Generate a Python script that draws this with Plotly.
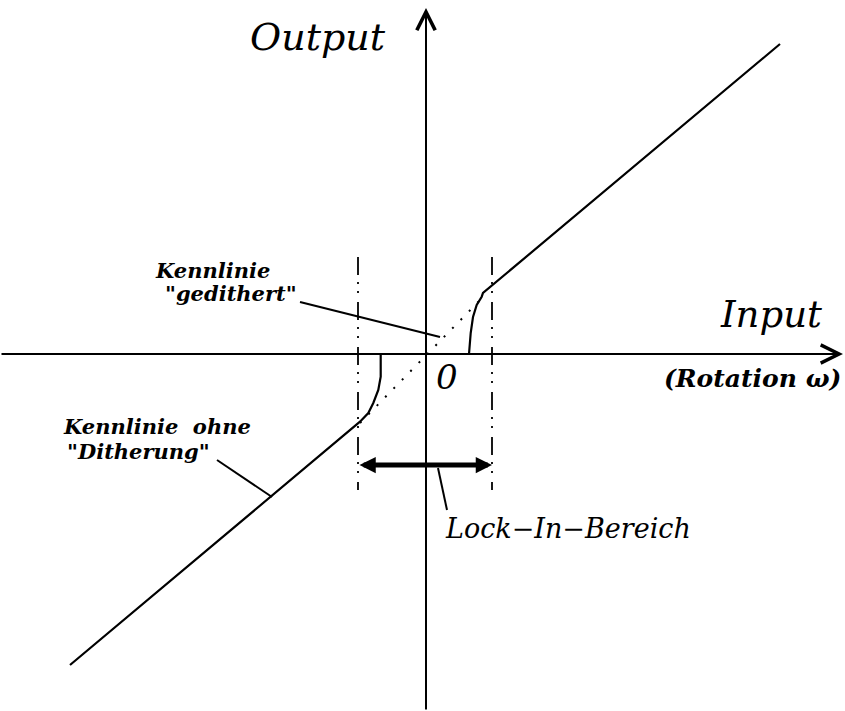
import plotly.graph_objects as go

# ---- data (units: relative to the origin of the Input/Output axes) ----
# characteristic without dithering (solid), two branches with lock-in
upper_x = [43, 44.7, 47, 50.7, 55.7, 57, 354]
upper_y = [0, 21, 37, 49, 57.3, 61, 310]
lower_x = [-45.3, -45.3, -47.7, -52.7, -57.7, -66, -356]
lower_y = [0, -22.7, -36, -49, -59, -67.7, -311]
# dithered characteristic (dotted)
dither_x = [-66, 58]
dither_y = [-69, 58]
# lock-in range bounds
lockin_x = [-68, 66]
bound_y = [97, -136]
lockin_arrow_y = -111
# leader lines
leader_gedithert_x = [-126, 14]
leader_gedithert_y = [52, 17]
leader_ohne_x = [-209, -154]
leader_ohne_y = [-106, -143]
leader_lockin_x = [12, 21]
leader_lockin_y = [-114, -156]
# axes extents
x_axis = [-426, 417]
y_axis = [-357, 346]

labels = {
    "output": "Output",
    "input": "Input",
    "rotation": "(Rotation ω)",
    "zero": "0",
    "k1a": "Kennlinie",
    "k1b": "\"gedithert\"",
    "k2a": "Kennlinie\u00a0\u00a0ohne",
    "k2b": "\"Ditherung\"",
    "lockin": "Lock\u2212In\u2212Bereich",
}

BLACK = "#000000"
SERIF = "DejaVu Serif"

fig = go.Figure()

def line(x, y, width=2.2, dash="solid"):
    fig.add_trace(go.Scatter(x=x, y=y, mode="lines",
                             line=dict(color=BLACK, width=width, dash=dash),
                             hoverinfo="skip", showlegend=False))

line(upper_x, upper_y)
line(lower_x, lower_y)
line(dither_x, dither_y, width=2, dash="2px,10px")
for bx in lockin_x:
    line([bx, bx], bound_y, width=1.8, dash="18px,7px,2px,7px,2px,9px")
line(leader_gedithert_x, leader_gedithert_y, width=2)
line(leader_ohne_x, leader_ohne_y, width=2)
line(leader_lockin_x, leader_lockin_y, width=2)

annotations = []
# axes with open arrowheads
annotations.append(dict(x=x_axis[1], y=0, ax=x_axis[0], ay=0, xref="x", yref="y",
                        axref="x", ayref="y", text="", showarrow=True,
                        arrowhead=5, arrowwidth=2, arrowsize=1.8, arrowcolor=BLACK))
annotations.append(dict(x=0, y=y_axis[1], ax=0, ay=y_axis[0], xref="x", yref="y",
                        axref="x", ayref="y", text="", showarrow=True,
                        arrowhead=5, arrowwidth=2, arrowsize=1.8, arrowcolor=BLACK))
# lock-in double arrow
annotations.append(dict(x=lockin_x[1], y=lockin_arrow_y, ax=lockin_x[0], ay=lockin_arrow_y,
                        xref="x", yref="y", axref="x", ayref="y", text="", showarrow=True,
                        arrowside="end+start", arrowhead=2, startarrowhead=2,
                        arrowwidth=5, arrowsize=0.65, startarrowsize=0.65, arrowcolor=BLACK))

def label(txt, x, y, size, xanchor="center", bold=False):
    t = f"<i>{txt}</i>"
    if bold:
        t = f"<b>{t}</b>"
    annotations.append(dict(x=x, y=y, xref="x", yref="y", text=t, showarrow=False,
                            xanchor=xanchor, yanchor="middle", borderpad=0, borderwidth=0,
                            font=dict(family=SERIF, size=size, color=BLACK)))

label(labels["output"], -108, 317, 38)
label(labels["input"], 345, 40, 37)
label(labels["rotation"], 326, -24, 25, bold=True)
label(labels["zero"], 21, -23, 34)
label(labels["k1a"], -271, 84, 21, xanchor="left", bold=True)
label(labels["k1b"], -261, 61, 21, xanchor="left", bold=True)
label(labels["k2a"], -363, -72, 21, xanchor="left", bold=True)
label(labels["k2b"], -359, -97, 21, xanchor="left", bold=True)
label(labels["lockin"], 19, -174, 27, xanchor="left")

fig.update_layout(
    width=845, height=711,
    margin=dict(l=0, r=0, t=0, b=0),
    paper_bgcolor="white", plot_bgcolor="white",
    showlegend=False,
    xaxis=dict(range=[-426, 419], visible=False, fixedrange=True),
    yaxis=dict(range=[-357, 354], visible=False, fixedrange=True),
    annotations=annotations,
)

fig.write_html(
    "out.html",
    config={"displayModeBar": False},
    post_script="document.body.style.margin='0';document.body.style.overflow='hidden';",
)
